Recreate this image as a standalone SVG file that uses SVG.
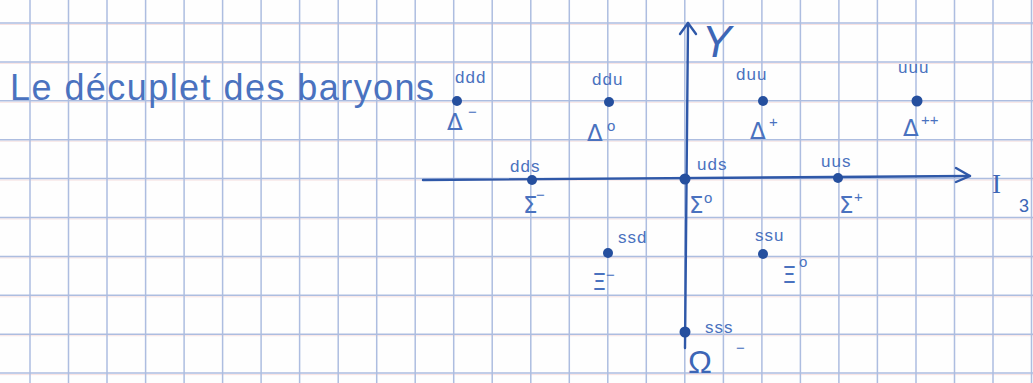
<svg xmlns="http://www.w3.org/2000/svg" width="1033" height="383" viewBox="0 0 1033 383">
  <defs>
    <style>
      .grid line { stroke: #adbde0; stroke-width: 1.5; }
      .gridr line { stroke: #f3d6d6; stroke-width: 0.7; }
      .ax { stroke: #2f58a8; stroke-width: 2.4; fill: none; stroke-linecap: round; stroke-linejoin: round; }
      .dot { fill: #254f9e; }
      .q { font-family: "Liberation Sans", "DejaVu Sans", sans-serif; font-size: 17px; fill: #4a72bf; letter-spacing: 1px; }
      .p { font-family: "DejaVu Sans", "Liberation Sans", sans-serif; font-size: 23px; fill: #4a72bf; }
      .sup { font-family: "Liberation Sans", "DejaVu Sans", sans-serif; font-size: 15px; fill: #4a72bf; }
      .title { font-family: "Liberation Sans", "DejaVu Sans", sans-serif; font-size: 36px; fill: #4a72bf; }
      .big { font-family: "Liberation Sans", "DejaVu Sans", sans-serif; fill: #3d66b6; }
      .ser { font-family: "Liberation Serif", "DejaVu Serif", serif; fill: #3d66b6; }
    </style>
  </defs>
  <rect width="1033" height="383" fill="#fefefe"/>
  <g id="grid">
    <g class="gridr">
      <line x1="0" y1="24.5" x2="1033" y2="24.5"/><line x1="0" y1="63.4" x2="1033" y2="63.4"/><line x1="0" y1="102.3" x2="1033" y2="102.3"/><line x1="0" y1="141.2" x2="1033" y2="141.2"/><line x1="0" y1="180.1" x2="1033" y2="180.1"/><line x1="0" y1="219" x2="1033" y2="219"/><line x1="0" y1="257.9" x2="1033" y2="257.9"/><line x1="0" y1="296.8" x2="1033" y2="296.8"/><line x1="0" y1="335.7" x2="1033" y2="335.7"/><line x1="0" y1="374.6" x2="1033" y2="374.6"/>
    </g>
    <g class="grid">
      <line x1="0" y1="23" x2="1033" y2="23"/><line x1="0" y1="61.9" x2="1033" y2="61.9"/><line x1="0" y1="100.8" x2="1033" y2="100.8"/><line x1="0" y1="139.7" x2="1033" y2="139.7"/><line x1="0" y1="178.6" x2="1033" y2="178.6"/><line x1="0" y1="217.5" x2="1033" y2="217.5"/><line x1="0" y1="256.4" x2="1033" y2="256.4"/><line x1="0" y1="295.3" x2="1033" y2="295.3"/><line x1="0" y1="334.2" x2="1033" y2="334.2"/><line x1="0" y1="373.1" x2="1033" y2="373.1"/>
      <line x1="30" y1="0" x2="30" y2="383"/><line x1="68.5" y1="0" x2="68.5" y2="383"/><line x1="107" y1="0" x2="107" y2="383"/><line x1="145.6" y1="0" x2="145.6" y2="383"/><line x1="184.1" y1="0" x2="184.1" y2="383"/><line x1="222.6" y1="0" x2="222.6" y2="383"/><line x1="261.1" y1="0" x2="261.1" y2="383"/><line x1="299.6" y1="0" x2="299.6" y2="383"/><line x1="338.2" y1="0" x2="338.2" y2="383"/><line x1="376.7" y1="0" x2="376.7" y2="383"/><line x1="415.2" y1="0" x2="415.2" y2="383"/><line x1="453.7" y1="0" x2="453.7" y2="383"/><line x1="492.2" y1="0" x2="492.2" y2="383"/><line x1="530.8" y1="0" x2="530.8" y2="383"/><line x1="569.3" y1="0" x2="569.3" y2="383"/><line x1="607.8" y1="0" x2="607.8" y2="383"/><line x1="646.3" y1="0" x2="646.3" y2="383"/><line x1="684.8" y1="0" x2="684.8" y2="383"/><line x1="723.4" y1="0" x2="723.4" y2="383"/><line x1="761.9" y1="0" x2="761.9" y2="383"/><line x1="800.4" y1="0" x2="800.4" y2="383"/><line x1="838.9" y1="0" x2="838.9" y2="383"/><line x1="877.4" y1="0" x2="877.4" y2="383"/><line x1="916" y1="0" x2="916" y2="383"/><line x1="954.5" y1="0" x2="954.5" y2="383"/><line x1="993" y1="0" x2="993" y2="383"/><line x1="1031.5" y1="0" x2="1031.5" y2="383"/>
    </g>
  </g>

  <text id="title" class="title" x="10" y="100" textLength="424" lengthAdjust="spacing">Le décuplet des baryons</text>

  <g id="connectors">
    <path class="ax" d="M685 348 L688 23"/>
    <path class="ax" d="M680 34 L688 23 L696 34"/>
    <path class="ax" d="M423 180 L970 176"/>
    <path class="ax" d="M956 168 L970 176 L956 182"/>
  </g>
  <g id="axis-labels">
    <text class="big" x="702" y="57" font-size="44" font-style="italic">Y</text>
    <text class="ser" x="992" y="193" font-size="27">I</text>
    <text class="big" x="1019" y="212" font-size="18">3</text>
  </g>

  <g id="delta-minus">
    <circle class="dot" cx="457" cy="101" r="5"/>
    <text class="q" x="455" y="83">ddd</text>
    <text class="p" x="447" y="130">Δ</text><text class="sup" x="468" y="117">−</text>
  </g>
  <g id="delta-0">
    <circle class="dot" cx="609" cy="102" r="5"/>
    <text class="q" x="592" y="85">ddu</text>
    <text class="p" x="587" y="141">Δ</text><text class="sup" x="607" y="131">o</text>
  </g>
  <g id="delta-plus">
    <circle class="dot" cx="763" cy="101" r="5"/>
    <text class="q" x="736" y="80">duu</text>
    <text class="p" x="750" y="139">Δ</text><text class="sup" x="769" y="127">+</text>
  </g>
  <g id="delta-plusplus">
    <circle class="dot" cx="917" cy="101" r="5.5"/>
    <text class="q" x="898" y="73">uuu</text>
    <text class="p" x="903" y="136">Δ</text><text class="sup" x="921" y="125">++</text>
  </g>
  <g id="sigma-minus">
    <circle class="dot" cx="532" cy="180" r="5"/>
    <text class="q" x="510" y="172">dds</text>
    <text class="p" x="523" y="213">Σ</text><text class="sup" x="536" y="200">−</text>
  </g>
  <g id="sigma-0">
    <circle class="dot" cx="685" cy="179" r="5.5"/>
    <text class="q" x="697" y="170">uds</text>
    <text class="p" x="689" y="213">Σ</text><text class="sup" x="704" y="203">o</text>
  </g>
  <g id="sigma-plus">
    <circle class="dot" cx="838" cy="178" r="5"/>
    <text class="q" x="821" y="167">uus</text>
    <text class="p" x="839" y="213">Σ</text><text class="sup" x="854" y="202">+</text>
  </g>
  <g id="xi-minus">
    <circle class="dot" cx="608" cy="253" r="5"/>
    <text class="q" x="618" y="243">ssd</text>
    <text class="p" x="592" y="290">Ξ</text><text class="sup" x="606" y="280">−</text>
  </g>
  <g id="xi-0">
    <circle class="dot" cx="763" cy="254" r="5"/>
    <text class="q" x="755" y="241">ssu</text>
    <text class="p" x="782" y="283">Ξ</text><text class="sup" x="799" y="267">o</text>
  </g>
  <g id="omega-minus">
    <circle class="dot" cx="685" cy="332" r="5.5"/>
    <text class="q" x="705" y="333" letter-spacing="3">sss</text>
    <text class="big" x="688" y="373" font-size="32">Ω</text><text class="sup" x="736" y="353">−</text>
  </g>
</svg>
